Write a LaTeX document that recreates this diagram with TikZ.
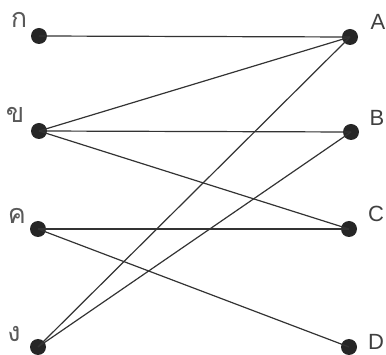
\documentclass[tikz,border=0pt]{standalone}
\usepackage{fontspec}
\setmainfont{Liberation Sans}
\newfontfamily\thaifont[Script=Thai]{Loma}
\begin{document}
\begin{tikzpicture}[x=1pt,y=-1pt,
  dot/.style={circle,fill=black!85,inner sep=0pt,minimum size=16pt},
  edge/.style={draw=black!80,line width=1.2pt},
  lbl/.style={font=\fontsize{22}{22}\selectfont,text=black!75,inner sep=0pt},
  thl/.style={font=\thaifont\fontsize{27}{27}\selectfont,text=black!65,inner sep=0pt}]
\useasboundingbox (0,0) rectangle (386,355);
\node[dot] (k1) at (39,36) {};
\node[dot] (k2) at (39,131) {};
\node[dot] (k3) at (38,229) {};
\node[dot] (k4) at (38,347) {};
\node[dot] (A) at (350,37) {};
\node[dot] (B) at (351,132) {};
\node[dot] (C) at (349,229) {};
\node[dot] (D) at (349,347) {};
\node[thl] (t1) at (19,20) {ก};
\node[thl] (t2) at (15,115) {ข};
\node[thl] (t3) at (17,216) {ค};
\node[thl] (t4) at (14,334) {ง};
\node[lbl] (lA) at (378,22) {A};
\node[lbl] (lB) at (377,118) {B};
\node[lbl] (lC) at (376,214) {C};
\node[lbl] (lD) at (376,342) {D};
\draw[edge] (k1.center) -- (A.center);
\draw[edge] (k2.center) -- (A.center);
\draw[edge] (k2.center) -- (B.center);
\draw[edge] (k2.center) -- (C.center);
\draw[edge] (k3.center) -- (C.center);
\draw[edge] (k3.center) -- (D.center);
\draw[edge] (k4.center) -- (A.center);
\draw[edge] (k4.center) -- (B.center);
\end{tikzpicture}
\end{document}
